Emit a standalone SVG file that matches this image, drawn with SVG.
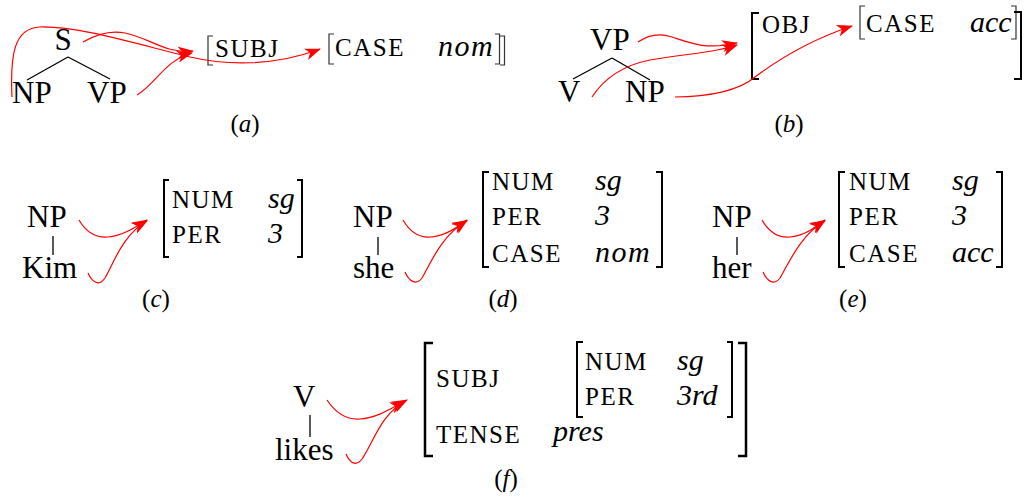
<svg xmlns="http://www.w3.org/2000/svg" width="1026" height="499" viewBox="0 0 1026 499">
<defs>
<marker id="ah" markerUnits="userSpaceOnUse" viewBox="0 0 16 12" markerWidth="16" markerHeight="12" refX="15" refY="6" orient="auto">
<path d="M0,0 L16,6 L0,12 L4.5,6 Z" fill="#f00"/>
</marker>
<style>
.t{font-family:"Liberation Serif","Times New Roman",serif;font-size:31px;fill:#000}
.k{font-family:"Liberation Serif","Times New Roman",serif;font-size:25px;letter-spacing:1.5px;fill:#000}
.v{font-family:"Liberation Serif","Times New Roman",serif;font-size:30px;font-style:italic;fill:#000}
.lab{font-family:"Liberation Serif","Times New Roman",serif;font-size:25px;fill:#000;text-anchor:middle}
.lab tspan{font-style:italic}
.br{fill:none;stroke:#000;stroke-width:2}
.bt{fill:none;stroke:#333;stroke-width:1.2}
.edge{stroke:#000;stroke-width:1.3;fill:none}
.arr{fill:none;stroke:#f00;stroke-width:1.2;marker-end:url(#ah)}
</style>
</defs>
<rect width="1026" height="499" fill="#fff"/>

<!-- (a) -->
<g id="a-S"><text class="t" x="63" y="50" text-anchor="middle">S</text></g>
<g id="a-NP"><text class="t" x="12" y="103">NP</text></g>
<g id="a-VP"><text class="t" x="87" y="103">VP</text></g>
<g id="a-avm">
<path class="bt" d="M213,36 H208 V65 H213"/>
<text class="k" x="215" y="57">SUBJ</text>
<path class="bt" d="M334,34 H329 V64 H334"/>
<text class="k" x="335" y="56">CASE</text>
<text class="v" x="438" y="56" style="letter-spacing:1.5px">nom</text>
<path class="bt" d="M495,34 H499.5 V64 H495"/>
<path class="bt" d="M500,36 H504.5 V65 H500"/>
</g>
<g id="a-label"><text class="lab" x="245" y="132">(<tspan>a</tspan>)</text></g>

<!-- (b) -->
<g id="b-VP"><text class="t" x="590" y="50">VP</text></g>
<g id="b-V"><text class="t" x="558" y="102">V</text></g>
<g id="b-NP"><text class="t" x="625" y="102">NP</text></g>
<g id="b-avm">
<path class="br" d="M759,13 H752 V79 H759"/>
<text class="k" x="762" y="33">OBJ</text>
<path class="bt" d="M865,6 H860 V39 H865"/>
<text class="k" x="866" y="32">CASE</text>
<text class="v" x="970" y="32">acc</text>
<path class="bt" d="M1011,6 H1016 V39 H1011"/>
<path class="br" d="M1014,12 H1021 V79 H1014"/>
</g>
<g id="b-label"><text class="lab" x="789" y="132">(<tspan>b</tspan>)</text></g>

<!-- (c) -->
<g id="c-NP"><text class="t" x="27" y="227">NP</text></g>
<g id="c-Kim"><text class="t" x="22" y="278">Kim</text></g>
<g id="c-avm">
<path class="br" d="M169,180 H164 V257 H169"/>
<text class="k" x="172" y="208">NUM</text>
<text class="k" x="172" y="243">PER</text>
<text class="v" x="268" y="208">sg</text>
<text class="v" x="268" y="243">3</text>
<path class="br" d="M297,180 H302 V257 H297"/>
</g>
<g id="c-label"><text class="lab" x="156" y="307">(<tspan>c</tspan>)</text></g>

<!-- (d) -->
<g id="d-NP"><text class="t" x="353" y="227">NP</text></g>
<g id="d-she"><text class="t" x="353" y="278">she</text></g>
<g id="d-avm">
<path class="br" d="M489,172 H483 V267 H489"/>
<text class="k" x="492" y="190">NUM</text>
<text class="k" x="492" y="225">PER</text>
<text class="k" x="492" y="262">CASE</text>
<text class="v" x="595" y="190">sg</text>
<text class="v" x="595" y="225">3</text>
<text class="v" x="595" y="262" style="letter-spacing:1.5px">nom</text>
<path class="br" d="M656,172 H662 V267 H656"/>
</g>
<g id="d-label"><text class="lab" x="503" y="307">(<tspan>d</tspan>)</text></g>

<!-- (e) -->
<g id="e-NP"><text class="t" x="712" y="227">NP</text></g>
<g id="e-her"><text class="t" x="712" y="278">her</text></g>
<g id="e-avm">
<path class="br" d="M845,172 H839 V267 H845"/>
<text class="k" x="849" y="190">NUM</text>
<text class="k" x="849" y="225">PER</text>
<text class="k" x="849" y="262">CASE</text>
<text class="v" x="952" y="190">sg</text>
<text class="v" x="952" y="225">3</text>
<text class="v" x="952" y="262">acc</text>
<path class="br" d="M996,172 H1002 V267 H996"/>
</g>
<g id="e-label"><text class="lab" x="853" y="307">(<tspan>e</tspan>)</text></g>

<!-- (f) -->
<g id="f-V"><text class="t" x="293" y="407">V</text></g>
<g id="f-likes"><text class="t" x="275" y="460">likes</text></g>
<g id="f-avm">
<path class="br" d="M433,343 H425 V456 H433" style="stroke-width:2.5"/>
<text class="k" x="436" y="387">SUBJ</text>
<text class="k" x="436" y="443">TENSE</text>
<text class="v" x="553" y="441">pres</text>
<path class="br" d="M583,342 H577 V417 H583"/>
<text class="k" x="585" y="370">NUM</text>
<text class="k" x="585" y="405">PER</text>
<text class="v" x="677" y="370">sg</text>
<text class="v" x="677" y="405">3rd</text>
<path class="br" d="M727,342 H732 V417 H727"/>
<path class="br" d="M738,343 H746 V456 H738" style="stroke-width:2.5"/>
</g>
<g id="f-label"><text class="lab" x="506" y="487">(<tspan>f</tspan>)</text></g>

<!-- tree edges -->
<g id="tree-edges">
<path class="edge" d="M68,57 L27,80 M68,57 L110,79"/>
<path class="edge" d="M612,58 L573,79 M612,58 L650,80"/>
<path class="edge" d="M53,236 V255"/>
<path class="edge" d="M378,237 V255"/>
<path class="edge" d="M737,237 V255"/>
<path class="edge" d="M310,415 V437"/>
</g>

<!-- connectors -->
<g id="connectors">
<path class="arr" d="M12,97 C10,55 14,28 40,27 C80,26 140,45 190,57 C225,65 272,67 320,49"/>
<path class="arr" d="M83,42 C95,35 110,30 125,33 C150,38 165,54 193,51"/>
<path class="arr" d="M137,95 C155,85 165,60 192,53"/>
<path class="arr" d="M638,42 C648,35 660,33 672,37 C690,43 705,50 737,43"/>
<path class="arr" d="M592,97 C603,80 620,66 650,60 C690,53 715,53 737,45"/>
<path class="arr" d="M675,97 C710,97 740,90 755,77 C775,62 810,40 852,26"/>
<path class="arr" d="M79,220 C86,232 96,238 108,237 C122,236 134,228 147,220"/>
<path class="arr" d="M88,273 C92,282 99,287 105,278 C113,265 122,235 147,221"/>
<path class="arr" d="M403,220 C410,232 420,238 431,237 C445,236 456,228 467,220"/>
<path class="arr" d="M405,272 C409,281 416,286 422,278 C430,265 441,235 467,221"/>
<path class="arr" d="M762,220 C769,232 779,238 790,237 C804,236 814,228 825,220"/>
<path class="arr" d="M763,272 C767,281 774,286 780,278 C788,265 800,235 825,221"/>
<path class="arr" d="M327,400 C335,412 346,420 360,419 C377,418 392,408 407,400"/>
<path class="arr" d="M346,454 C350,463 356,467 362,459 C372,445 382,412 405,402"/>
</g>
</svg>
